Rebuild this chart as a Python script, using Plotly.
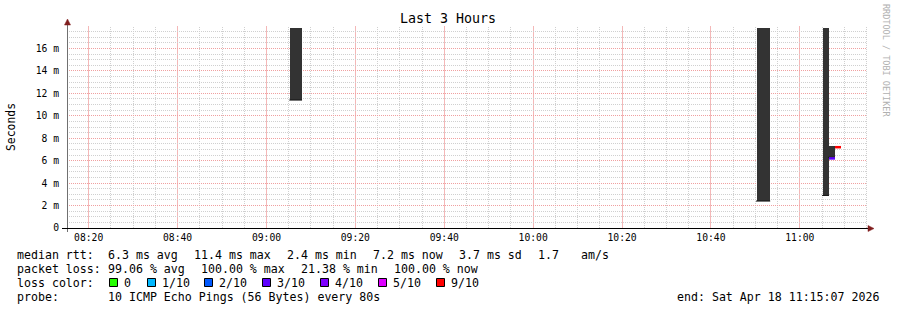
import math
import numpy as np
import pandas as pd
import plotly.graph_objects as go

# ---------------- data ----------------
t_start = "2026-04-18 08:15:07"
t_end = "2026-04-18 11:15:07"

smoke_start = ["2026-04-18 09:05:20", "2026-04-18 10:50:20", "2026-04-18 11:05:13", "2026-04-18 11:06:34"]
smoke_end = ["2026-04-18 09:08:00", "2026-04-18 10:53:20", "2026-04-18 11:06:34", "2026-04-18 11:07:55"]
smoke_min = [11.4, 2.4, 2.9, 6.3]
smoke_max = [17.8, 17.8, 17.8, 7.3]

median_start = ["2026-04-18 11:06:34", "2026-04-18 11:07:55"]
median_end = ["2026-04-18 11:07:55", "2026-04-18 11:09:16"]
median_val = [6.2, 7.2]
median_loss = ["3/10", "9/10"]

loss_labels = ["0", "1/10", "2/10", "3/10", "4/10", "5/10", "9/10"]
loss_colors = ["#26ff00", "#00b8ff", "#0059ff", "#5e00ff", "#7e00ff", "#dd00ff", "#ff0000"]

x_major_ticks = ["2026-04-18 08:20", "2026-04-18 08:40", "2026-04-18 09:00", "2026-04-18 09:20",
                 "2026-04-18 09:40", "2026-04-18 10:00", "2026-04-18 10:20", "2026-04-18 10:40",
                 "2026-04-18 11:00"]
x_tick_labels = ["08:20", "08:40", "09:00", "09:20", "09:40", "10:00", "10:20", "10:40", "11:00"]

y_tickvals = [0, 2, 4, 6, 8, 10, 12, 14, 16]
y_ticktext = ["0", "2 m", "4 m", "6 m", "8 m", "10 m", "12 m", "14 m", "16 m"]

title_text = "Last 3 Hours"
y_title = "Seconds"

rtt_items = ["median rtt:", "6.3 ms avg", "11.4 ms max", "2.4 ms min", "7.2 ms now", "3.7 ms sd", "1.7", "am/s"]
loss_items = ["packet loss:", "99.06 % avg", "100.00 % max", "21.38 % min", "100.00 % now"]
probe_items = ["probe:", "10 ICMP Echo Pings (56 Bytes) every 80s"]
end_text = "end: Sat Apr 18 11:15:07 2026"
watermark = "RRDTOOL / TOBI OETIKER"

# ---------------- layout geometry (pixels) ----------------
W, H = 897, 310
L, R, T, B = 67, 30, 26, 82
PW, PH = W - L - R, H - T - B


def xp(px):
    return (px - L) / PW


def yp(py):
    return (H - B - py) / PH


MONO = "DejaVu Sans Mono"
smoke_color = "#333333"

fig = go.Figure()

# smoke bars
s0 = pd.to_datetime(smoke_start)
s1 = pd.to_datetime(smoke_end)
centers = s0 + (s1 - s0) / 2
widths = [(b - a).total_seconds() * 1000 for a, b in zip(s0, s1)]
fig.add_trace(go.Bar(
    x=centers, y=[hi - lo for lo, hi in zip(smoke_min, smoke_max)], base=smoke_min,
    width=widths, marker=dict(color=smoke_color, line=dict(width=0)),
    showlegend=False, hoverinfo="skip"))

# dark bottom edge of smoke
for a, b, lo in zip(s0, s1, smoke_min):
    fig.add_trace(go.Scatter(x=[a - pd.Timedelta(seconds=12), b], y=[lo, lo], mode="lines",
                             line=dict(color="#111111", width=1), showlegend=False, hoverinfo="skip"))

# median lines coloured by loss
for a, b, v, lo in zip(median_start, median_end, median_val, median_loss):
    c = loss_colors[loss_labels.index(lo)]
    fig.add_trace(go.Scatter(x=[a, b], y=[v, v], mode="lines",
                             line=dict(color=c, width=2.5), showlegend=False, hoverinfo="skip"))

GRID_MINOR = "#d0d0d0"
GRID_MAJOR = "#f0a0a0"

y_minor = [v for v in np.arange(0.5, 18.01, 0.5) if v % 2 != 0]

fig.update_xaxes(
    type="date", range=[t_start, t_end],
    tickmode="array", tickvals=x_major_ticks, ticktext=x_tick_labels,
    showgrid=False, showline=False, zeroline=False, ticks="",
    tickfont=dict(family=MONO, size=9.7, color="#000000"),
    ticklabelstandoff=2, fixedrange=True)

fig.update_yaxes(
    range=[0, 18], tickvals=y_tickvals, ticktext=y_ticktext,
    showgrid=True, gridcolor=GRID_MAJOR, griddash="1px,1px", gridwidth=1,
    minor=dict(tickmode="array", tickvals=y_minor, showgrid=True,
               gridcolor=GRID_MINOR, griddash="1px,1px", gridwidth=1),
    showline=False, zeroline=False, ticks="",
    tickfont=dict(family=MONO, size=9.7, color="#000000"),
    ticklabelstandoff=7, fixedrange=True)

shapes = []

# vertical grid lines, snapped to pixel columns (rrdtool style)
t0 = pd.Timestamp(t_start)
span = (pd.Timestamp(t_end) - t0).total_seconds()
for t in pd.date_range("2026-04-18 08:20:00", "2026-04-18 11:15:00", freq="5min"):
    px = math.floor(L + (t - t0).total_seconds() / span * PW) + 0.5
    if t.minute % 20 == 0:
        line = dict(color="#f4b8b8", width=1)
    else:
        line = dict(color=GRID_MINOR, width=1, dash="1px,1px")
    shapes.append(dict(type="line", xref="paper", yref="paper", x0=xp(px), x1=xp(px),
                       y0=0, y1=1, layer="between", line=line))

# axes lines
shapes.append(dict(type="line", xref="paper", yref="paper", x0=xp(67.5), x1=xp(67.5), y0=yp(232), y1=yp(22),
                   line=dict(color="#707070", width=1)))
shapes.append(dict(type="line", xref="paper", yref="paper", x0=xp(62), x1=xp(869), y0=yp(228.5), y1=yp(228.5),
                   line=dict(color="#000000", width=1)))
# arrows
ARROW = "#801f1f"
shapes.append(dict(type="path", xref="paper", yref="paper",
                   path=f"M {xp(64.5)},{yp(25)} L {xp(70.5)},{yp(25)} L {xp(67.5)},{yp(19)} Z",
                   fillcolor=ARROW, line=dict(color=ARROW, width=0.5)))
shapes.append(dict(type="path", xref="paper", yref="paper",
                   path=f"M {xp(868)},{yp(225.5)} L {xp(868)},{yp(231.5)} L {xp(874)},{yp(228.5)} Z",
                   fillcolor=ARROW, line=dict(color=ARROW, width=0.5)))

annotations = []


def text(px, py, s, size=11.6, color="#000000", anchor="left", angle=0):
    annotations.append(dict(xref="paper", yref="paper", x=xp(px), y=yp(py), text=s,
                            showarrow=False, xanchor=anchor, yanchor="middle", borderpad=0,
                            textangle=angle, font=dict(family=MONO, size=size, color=color)))


text(448, 19, title_text, size=13.3, anchor="center")
text(11, 127, y_title, size=11.4, anchor="center", angle=-90)
text(886, 60, watermark, size=8.5, color="#b0b0b0", anchor="center", angle=90)

rtt_x = [16, 107, 193, 286, 372, 458, 537, 580]
for px, s in zip(rtt_x, rtt_items):
    text(px, 255, s)
loss_x = [16, 107, 200, 300, 393]
for px, s in zip(loss_x, loss_items):
    text(px, 269, s)
text(16, 283, "loss color:")
box_x = [109, 147, 204, 262, 320, 378, 436]
for px, lab, col in zip(box_x, loss_labels, loss_colors):
    shapes.append(dict(type="rect", xref="paper", yref="paper",
                       x0=xp(px + 0.5), x1=xp(px + 8.5), y0=yp(286.5), y1=yp(278.5),
                       fillcolor=col, line=dict(color="#000000", width=1)))
    text(px + 14, 283, lab)
probe_x = [16, 107]
for px, s in zip(probe_x, probe_items):
    text(px, 297, s)
text(880, 297, end_text, anchor="right")

fig.update_layout(
    width=W, height=H, margin=dict(l=L, r=R, t=T, b=B, pad=0),
    paper_bgcolor="#ffffff", plot_bgcolor="#ffffff",
    showlegend=False, shapes=shapes, annotations=annotations,
    bargap=0, font=dict(family=MONO, color="#000000"))

fig.write_html("out.html", config={"displayModeBar": False})
